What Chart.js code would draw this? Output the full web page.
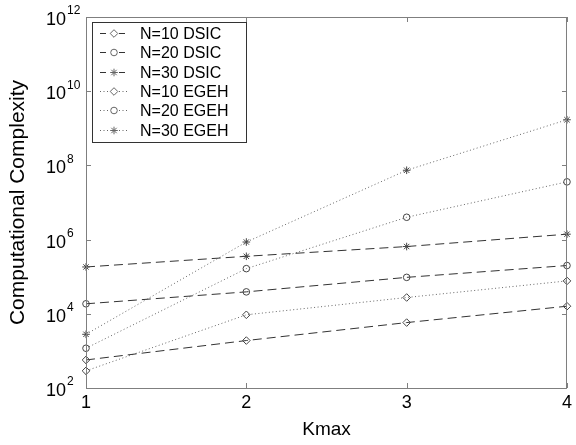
<!DOCTYPE html>
<html>
<head>
<meta charset="utf-8">
<script src="https://cdn.jsdelivr.net/npm/chart.js@4"></script>
<style>
  html, body { margin: 0; padding: 0; background: #fff; }
  #wrap { width: 576px; height: 445px; }
</style>
</head>
<body>
<div id="wrap"><canvas id="cc" width="576" height="445"></canvas></div>
<script>
// data
const kmax = [1, 2, 3, 4];
const yTicks = [1e2, 1e4, 1e6, 1e8, 1e10, 1e12];
const xTicks = [1, 2, 3, 4];

const dsic10 = [570, 1900, 5800, 16000];
const dsic20 = [18600, 39000, 96000, 200000];
const dsic30 = [183000, 355000, 650000, 1400000];
const egeh10 = [290, 9400, 27500, 77000];
const egeh20 = [1180, 165000, 4000000, 36000000];
const egeh30 = [2800, 860000, 74000000, 1700000000];

const FONT = '"Liberation Sans", Arial, sans-serif';
const AXIS = '#7f7f7f';

function series(label, vals, dotted, marker) {
    return {
        label: label,
        data: vals.map((v, i) => ({ x: kmax[i], y: v })),
        borderColor: dotted ? '#666' : '#333',
        borderWidth: 1,
        borderDash: dotted ? [1, 2.5] : [9, 5],
        pointStyle: marker,
        pointRadius: marker === 'circle' ? 3.3 : 3.8,
        pointBorderColor: '#444',
        pointBackgroundColor: 'rgba(0,0,0,0)',
        pointBorderWidth: 1,
        tension: 0,
        fill: false,
        clip: false
    };
}

// box, inward ticks, 10^n labels, legend
const matlabish = {
    id: 'matlabish',
    afterDraw(chart) {
        const { ctx, chartArea: a, scales } = chart;
        const xs = scales.x, ys = scales.y;
        ctx.save();
        ctx.strokeStyle = AXIS;
        ctx.lineWidth = 1;
        ctx.strokeRect(a.left + 0.5, a.top + 0.5, a.right - a.left - 1, a.bottom - a.top);
        ctx.beginPath();
        yTicks.forEach(t => {
            const y = Math.round(ys.getPixelForValue(t)) + 0.5;
            ctx.moveTo(a.left, y); ctx.lineTo(a.left + 5, y);
            ctx.moveTo(a.right, y); ctx.lineTo(a.right - 5, y);
        });
        xTicks.forEach(t => {
            const x = Math.round(xs.getPixelForValue(t)) + 0.5;
            ctx.moveTo(x, a.bottom); ctx.lineTo(x, a.bottom - 5);
            ctx.moveTo(x, a.top); ctx.lineTo(x, a.top + 5);
        });
        ctx.stroke();

        // y tick labels as 10 with a raised exponent
        ctx.fillStyle = '#000';
        yTicks.forEach(t => {
            const y = ys.getPixelForValue(t);
            ctx.font = '18px ' + FONT;
            ctx.textAlign = 'right';
            ctx.textBaseline = 'middle';
            ctx.fillText('10', 66, y + 3);
            ctx.font = '12px ' + FONT;
            ctx.textAlign = 'left';
            ctx.fillText(String(Math.round(Math.log10(t))), 67, y - 6);
        });

        // legend
        const lx = 92, ly = 22, lw = 154, lh = 120;
        ctx.fillStyle = '#fff';
        ctx.fillRect(lx, ly, lw, lh);
        ctx.strokeStyle = '#333';
        ctx.strokeRect(lx + 0.5, ly + 0.5, lw, lh);
        ctx.font = '16px ' + FONT;
        ctx.textAlign = 'left';
        ctx.textBaseline = 'middle';
        chart.data.datasets.forEach((ds, i) => {
            const y = Math.round(33 + i * 19.3) + 0.5;
            const dotted = ds.borderDash[0] < 2;
            ctx.save();
            ctx.strokeStyle = ds.borderColor;
            ctx.setLineDash(dotted ? ds.borderDash : [6, 4]);
            ctx.beginPath();
            ctx.moveTo(100, y); ctx.lineTo(109, y);
            ctx.moveTo(119, y); ctx.lineTo(129, y);
            ctx.stroke();
            ctx.restore();
            ctx.strokeStyle = '#666';
            ctx.fillStyle = ds.pointBackgroundColor;
            Chart.helpers.drawPoint(ctx, {
                pointStyle: ds.pointStyle, radius: ds.pointRadius,
                borderWidth: 1, rotation: 0
            }, 114, y);
            ctx.fillStyle = '#000';
            ctx.fillText(ds.label, 140, y + 1);
        });
        ctx.restore();
    }
};

new Chart(document.getElementById('cc'), {
    type: 'line',
    data: {
        datasets: [
            series('N=10 DSIC', dsic10, false, 'rectRot'),
            series('N=20 DSIC', dsic20, false, 'circle'),
            series('N=30 DSIC', dsic30, false, 'star'),
            series('N=10 EGEH', egeh10, true, 'rectRot'),
            series('N=20 EGEH', egeh20, true, 'circle'),
            series('N=30 EGEH', egeh30, true, 'star')
        ]
    },
    options: {
        responsive: false,
        animation: false,
        layout: { padding: { top: 17, right: 6, left: 0, bottom: 0 } },
        plugins: { legend: { display: false }, tooltip: { enabled: false } },
        scales: {
            x: {
                type: 'linear', min: 1, max: 4,
                afterFit: s => { s.height = 57; },
                afterBuildTicks: s => { s.ticks = xTicks.map(v => ({ value: v })); },
                grid: { display: false, drawTicks: false },
                border: { color: AXIS },
                ticks: { color: '#000', font: { family: FONT, size: 18 }, padding: 4, maxRotation: 0 },
                title: { display: true, text: 'Kmax', color: '#000',
                         font: { family: FONT, size: 19 }, padding: { top: 0, bottom: 4 } }
            },
            y: {
                type: 'logarithmic', min: 1e2, max: 1e12,
                afterFit: s => { s.width = 86; },
                grid: { display: false, drawTicks: false },
                border: { color: AXIS },
                ticks: { display: false },
                title: { display: true, text: 'Computational Complexity', color: '#000',
                         font: { family: FONT, size: 21 }, padding: { top: 6, bottom: 0 } }
            }
        }
    },
    plugins: [matlabish]
});
</script>
</body>
</html>
